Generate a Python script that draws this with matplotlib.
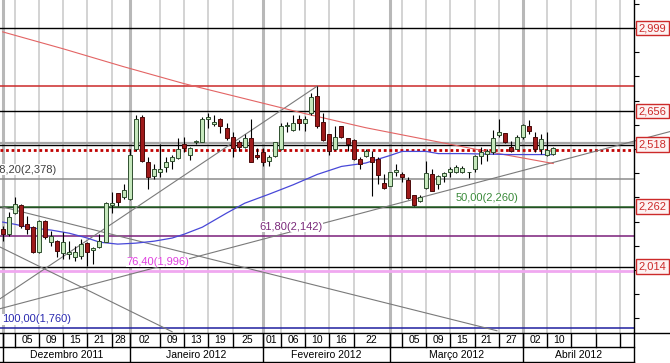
import numpy as np
import matplotlib
matplotlib.use("Agg")
import matplotlib.pyplot as plt
import matplotlib.transforms as mtransforms
from matplotlib.lines import Line2D

plt.rcParams['font.family'] = ['Liberation Sans', 'DejaVu Sans']

# Daily candles, 01 Dec 2011 .. 11 Apr 2012 (x = trading-day index)
opens = [2.169, 2.148, 2.235, 2.268, 2.189, 2.177, 2.074, 2.202, 2.115, 2.119,
         2.070, 2.066, 2.054, 2.058, 2.111, 2.082, 2.095, 2.115, 2.268, 2.317,
         2.300, 2.292, 2.498, 2.634, 2.445, 2.387, 2.407, 2.424, 2.449, 2.461,
         2.519, 2.477, 2.527, 2.531, 2.625, 2.605, 2.625, 2.588, 2.551, 2.527,
         2.510, 2.547, 2.477, 2.486, 2.449, 2.473, 2.502, 2.593, 2.580, 2.625,
         2.609, 2.650, 2.720, 2.613, 2.560, 2.498, 2.593, 2.547, 2.539, 2.457,
         2.473, 2.465, 2.457, 2.358, 2.346, 2.403, 2.395, 2.370, 2.309, 2.284,
         2.338, 2.395, 2.354, 2.387, 2.403, 2.407, 2.407, 2.403, 2.416, 2.473,
         2.481, 2.486, 2.556, 2.568, 2.510, 2.502, 2.551, 2.593, 2.551, 2.502,
         2.477, 2.481]
highs = [2.181, 2.239, 2.300, 2.272, 2.222, 2.181, 2.206, 2.206, 2.161, 2.124,
         2.156, 2.119, 2.099, 2.128, 2.115, 2.095, 2.148, 2.280, 2.321, 2.317,
         2.354, 2.498, 2.642, 2.642, 2.465, 2.436, 2.519, 2.469, 2.477, 2.547,
         2.551, 2.510, 2.539, 2.634, 2.650, 2.642, 2.630, 2.609, 2.572, 2.539,
         2.560, 2.625, 2.506, 2.506, 2.477, 2.531, 2.609, 2.613, 2.642, 2.642,
         2.638, 2.732, 2.760, 2.650, 2.560, 2.593, 2.593, 2.547, 2.543, 2.469,
         2.498, 2.490, 2.465, 2.395, 2.407, 2.436, 2.407, 2.383, 2.309, 2.309,
         2.449, 2.416, 2.391, 2.407, 2.424, 2.432, 2.428, 2.407, 2.477, 2.510,
         2.498, 2.580, 2.625, 2.568, 2.535, 2.556, 2.605, 2.621, 2.572, 2.564,
         2.572, 2.510]
lows = [2.119, 2.140, 2.230, 2.173, 2.148, 2.070, 2.070, 2.128, 2.099, 2.054,
        2.045, 2.045, 2.037, 2.045, 2.017, 2.025, 2.091, 2.115, 2.235, 2.263,
        2.292, 2.288, 2.490, 2.445, 2.333, 2.375, 2.383, 2.407, 2.416, 2.457,
        2.486, 2.453, 2.519, 2.527, 2.588, 2.593, 2.568, 2.539, 2.465, 2.490,
        2.506, 2.445, 2.457, 2.428, 2.428, 2.469, 2.494, 2.572, 2.576, 2.580,
        2.576, 2.642, 2.588, 2.535, 2.477, 2.494, 2.547, 2.490, 2.453, 2.416,
        2.469, 2.305, 2.354, 2.333, 2.346, 2.387, 2.362, 2.292, 2.263, 2.280,
        2.333, 2.325, 2.333, 2.362, 2.383, 2.399, 2.399, 2.379, 2.403, 2.436,
        2.449, 2.481, 2.551, 2.523, 2.486, 2.498, 2.543, 2.560, 2.486, 2.481,
        2.473, 2.477]
closes = [2.148, 2.218, 2.272, 2.181, 2.169, 2.074, 2.202, 2.136, 2.140, 2.078,
          2.115, 2.074, 2.074, 2.107, 2.074, 2.091, 2.119, 2.276, 2.276, 2.280,
          2.329, 2.477, 2.625, 2.449, 2.383, 2.416, 2.416, 2.445, 2.465, 2.498,
          2.506, 2.506, 2.535, 2.625, 2.634, 2.613, 2.597, 2.547, 2.506, 2.510,
          2.547, 2.445, 2.469, 2.445, 2.469, 2.527, 2.593, 2.601, 2.609, 2.609,
          2.625, 2.716, 2.593, 2.539, 2.490, 2.551, 2.551, 2.519, 2.457, 2.436,
          2.490, 2.445, 2.391, 2.338, 2.403, 2.412, 2.383, 2.296, 2.268, 2.300,
          2.399, 2.325, 2.387, 2.399, 2.416, 2.424, 2.420, 2.407, 2.473, 2.486,
          2.490, 2.547, 2.572, 2.527, 2.490, 2.551, 2.601, 2.576, 2.498, 2.543,
          2.494, 2.506]

# moving averages, read at some candle indices
red_ma_x = [0, 10, 20, 30, 40, 50, 60, 70, 80, 91]
red_ma_y = [2.984, 2.914, 2.840, 2.770, 2.708, 2.646, 2.588, 2.539, 2.490, 2.440]
blue_ma_x = [0, 2, 5, 8, 11, 14, 16, 19, 22, 25, 28, 30, 33, 37, 40, 44, 48,
             52, 56, 60, 64, 66, 70, 72, 76, 84, 91]
blue_ma_y = [2.198, 2.189, 2.173, 2.165, 2.152, 2.132, 2.115, 2.107, 2.111,
             2.119, 2.132, 2.148, 2.177, 2.235, 2.276, 2.313, 2.352, 2.395,
             2.428, 2.442, 2.473, 2.490, 2.490, 2.481, 2.481, 2.477, 2.477]

# trend lines: (x0, price0, x1, price1)
trend_lines = [(-0.45, 1.881, 52, 2.760),
               (-0.45, 1.840, 110.3, 2.572),
               (-0.45, 2.263, 81.7, 1.749),
               (-0.45, 2.095, 28, 1.745)]

# fibonacci retracement levels
fib_price = [2.760, 2.524, 2.378, 2.260, 2.142, 1.996, 1.760]
fib_text = [None, None, "38,20(2,378)", "50,00(2,260)", "61,80(2,142)",
            "76,40(1,996)", "100,00(1,760)"]
fib_color = ['#cc2a2a', '#a8a8a8', '#8c8c8c', '#2e6b2e', '#7a1f7a', '#f0a8f0', '#1f1f9f']
fib_txtcolor = [None, None, '#404040', '#3a8a3a', '#7a2a7a', '#e040e0', '#2a2ab0']
fib_txt_x = [None, None, 9.0, 74.8, 42.4, 20.4, -0.1]

# price lines with right-hand labels
price_lines = [2.999, 2.656, 2.518, 2.262, 2.014]
price_labels = ["2,999", "2,656", "2,518", "2,262", "2,014"]
last_price = 2.497

# x axis: separators (trading-day index) and labels between them
date_seps = [0, 2, 6, 10, 14, 18, 21, 26, 30, 34, 38, 43, 46, 50, 54, 58, 64,
             66, 70, 74, 78, 82, 86, 90, 94, 98, 102]
date_labels = ["", "05", "09", "15", "21", "28", "02", "09", "13", "19", "25",
               "01", "06", "10", "16", "22", "", "05", "09", "15", "21", "27",
               "02", "10", "", ""]
month_seps = [0, 21, 43, 64, 86]
month_labels = ["Dezembro 2011", "Janeiro 2012", "Fevereiro 2012", "Março 2012", "Abril 2012"]

W, H = 670, 363
XMIN, XMAX = -0.446, 104.35
fig = plt.figure(figsize=(W / 100, H / 100), dpi=100)
ax = fig.add_axes([0, 30 / H, 634 / W, 333 / H])
ax.set_xlim(XMIN, XMAX)
ax.set_ylim(1.7397, 3.1157)

# vertical grid
for s in date_seps:
    if s in month_seps:
        ax.axvline(s, color='#b8b8b8', lw=2.2, zorder=0)
    else:
        ax.axvline(s, color='#d0d0d0', lw=1.3, zorder=0)

# horizontal lines
for p in price_lines:
    ax.axhline(p, color='black', lw=1.0, zorder=1)
for p, col in zip(fib_price, fib_color):
    lw = 2.0 if col == '#f0a8f0' else (1.6 if col == '#a8a8a8' else 1.1)
    ax.axhline(p, color=col, lw=lw, zorder=1.5)
ax.axhline(last_price, color='#c00000', lw=2.0, ls=(0, (1, 1)), zorder=2)

# trend lines (the long support line runs on past the price axis)
for x0, p0, x1, p1 in trend_lines:
    ax.plot([x0, x1], [p0, p1], color='#7a7a7a', lw=0.8, zorder=2,
            clip_on=(x1 <= XMAX))

# moving averages
ax.plot(red_ma_x, red_ma_y, color='#e36464', lw=0.8, zorder=3)
ax.plot(blue_ma_x, blue_ma_y, color='#4848d8', lw=0.9, zorder=3)

# candles
o = np.array(opens); h = np.array(highs); l = np.array(lows); c = np.array(closes)
idx = np.arange(len(o))
up = c >= o
lo = np.minimum(o, c)
bh = np.maximum(np.abs(c - o), 0.002)
ax.vlines(idx, l, h, color='black', lw=0.8, zorder=5)
ax.bar(idx[up], bh[up], 0.66, bottom=lo[up], color='#c6e8bd',
       edgecolor='#2f4f2f', lw=0.7, zorder=6)
ax.bar(idx[~up], bh[~up], 0.66, bottom=lo[~up], color='#9e1a1a',
       edgecolor='#4a0a0a', lw=0.7, zorder=6)

# fib labels
for p, t, col, x in zip(fib_price, fib_text, fib_txtcolor, fib_txt_x):
    if t is None:
        continue
    ha = 'right' if t.startswith("38") else 'left'
    ax.text(x, p + 0.037, t, color=col, fontsize=8, ha=ha, va='center', zorder=7,
            bbox=dict(facecolor='white', edgecolor='none', pad=0.3))

# right axis
for s in ['top', 'left', 'bottom']:
    ax.spines[s].set_visible(False)
ax.spines['right'].set_color('black')
ax.spines['right'].set_linewidth(1.0)
ax.set_xticks([])
ax.yaxis.set_ticks_position('right')
ax.set_yticks([1.8, 1.9, 2.0, 2.1, 2.2, 2.3, 2.4, 2.5, 2.6, 2.7, 2.8, 2.9, 3.0, 3.1])
ax.tick_params(axis='y', direction='out', length=3.6, width=0.8, labelright=False)
trans = mtransforms.blended_transform_factory(ax.transAxes, ax.transData)
for p, t in zip(price_lines, price_labels):
    ax.text(652.5 / 634, p, t, transform=trans, fontsize=8, color='#cc2a2a',
            ha='center', va='center', clip_on=False, zorder=8,
            bbox=dict(boxstyle='square,pad=0.2', facecolor='#fdf2f2',
                      edgecolor='#cc2a2a', lw=1.0))

# date rows
axd = fig.add_axes([0, 1 / H, 634 / W, 29 / H])
axd.set_xlim(XMIN, XMAX)
axd.set_ylim(0, 29)
axd.axis('off')
for yy in [29, 15, 0]:
    axd.axhline(yy, color='black', lw=1.0, clip_on=False)
axd.axvline(XMAX, color='black', lw=1.0, clip_on=False)
for s in date_seps:
    axd.plot([s, s], [15, 29], color='black', lw=1.0)
for s in month_seps:
    axd.plot([s, s], [0, 29], color='black', lw=1.0)
bounds = date_seps + [XMAX]
for i, t in enumerate(date_labels):
    axd.text((bounds[i] + bounds[i + 1]) / 2, 22, t, fontsize=7.5,
             ha='center', va='center')
mb = month_seps + [XMAX]
for i, t in enumerate(month_labels):
    axd.text((mb[i] + mb[i + 1]) / 2, 7.3, t, fontsize=7.5, ha='center', va='center')
fig.add_artist(Line2D([634 / W, 1], [30 / H, 30 / H], color='black', lw=1.0))

fig.savefig('out.png', dpi=100)
